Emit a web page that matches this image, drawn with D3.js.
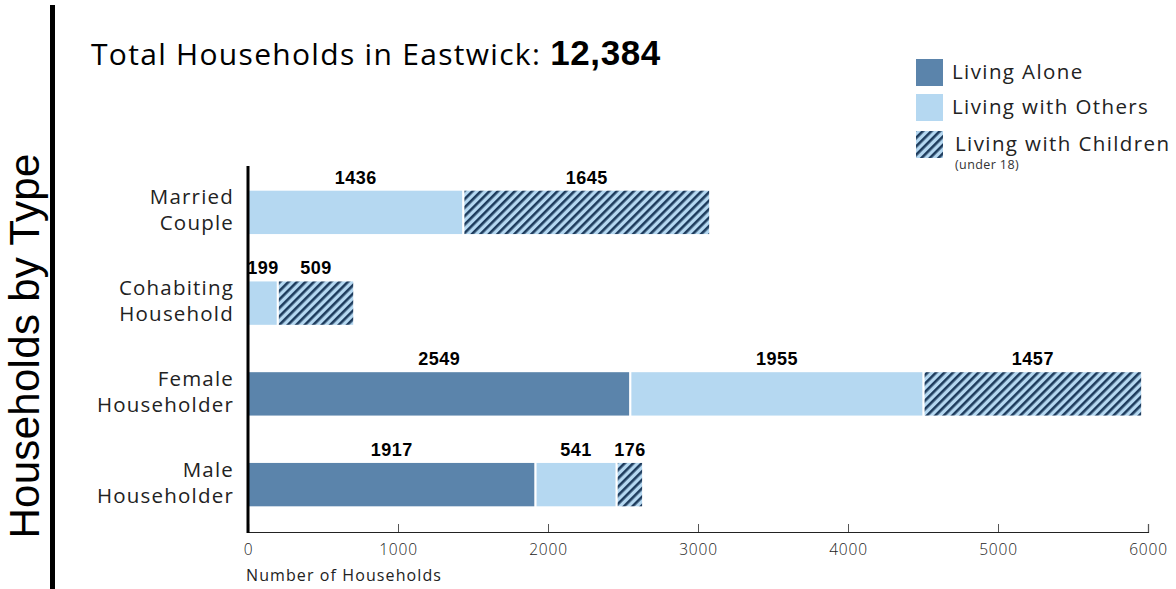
<!DOCTYPE html>
<html><head><meta charset="utf-8">
<script src="https://cdn.jsdelivr.net/npm/d3@7"></script>
<style>
body{margin:0;background:#fff;}
svg{display:block;}
</style></head>
<body>
<svg id="chart" width="1176" height="589"></svg>
<script>
const categories = ["Married Couple", "Cohabiting Household", "Female Householder", "Male Householder"];
const categoryLines = [["Married","Couple"],["Cohabiting","Household"],["Female","Householder"],["Male","Householder"]];
const seriesNames = ["Living Alone", "Living with Others", "Living with Children"];
const livingAlone = [0, 0, 2549, 1917];
const livingWithOthers = [1436, 199, 1955, 541];
const livingWithChildren = [1645, 509, 1457, 176];
const xTicks = [0, 1000, 2000, 3000, 4000, 5000, 6000];
const totalHouseholds = "12,384";

const colors = {alone:"#5b84ab", others:"#b5d8f1", hatch:"#1d3b5c"};
const font = "'Open Sans', sans-serif";
const boldFont = "'Liberation Sans', Arial, sans-serif";

const svg = d3.select("#chart");
const defs = svg.append("defs");
const pat = defs.append("pattern").attr("id","hatch").attr("patternUnits","userSpaceOnUse")
  .attr("width",6).attr("height",6).attr("patternTransform","rotate(45)");
pat.append("rect").attr("width",6).attr("height",6).attr("fill",colors.others);
pat.append("rect").attr("x",0).attr("y",0).attr("width",2.6).attr("height",6).attr("fill",colors.hatch);

const x = d3.scaleLinear().domain([0,6000]).range([248,1148]);
const y = d3.scaleBand().domain(categories).range([167,530]).paddingInner(0.5).paddingOuter(0.25);

// left rule and vertical title
svg.append("rect").attr("x",50).attr("y",5).attr("width",5).attr("height",584).attr("fill","#000");
svg.append("text").attr("transform","translate(39,346) rotate(-90)")
  .attr("text-anchor","middle").attr("font-family",boldFont)
  .attr("font-size",42).attr("letter-spacing",0.3).attr("fill","#000").text("Households by Type");

// title
const t = svg.append("text").attr("x",91).attr("y",65).attr("font-family",font).attr("font-size",30)
  .attr("letter-spacing",1.3).attr("fill","#000");
t.append("tspan").text("Total Households in Eastwick: ");
t.append("tspan").attr("font-weight","bold").attr("font-family",boldFont).attr("font-size",35)
  .attr("letter-spacing",0.6).text(totalHouseholds);

// stacked data
const rows = categories.map((c,i)=>({cat:c, vals:[livingAlone[i], livingWithOthers[i], livingWithChildren[i]]}));
const fills = [colors.alone, colors.others, "url(#hatch)"];
const g = svg.append("g");
rows.forEach(r=>{
  let acc = 0;
  r.vals.forEach((v,k)=>{
    if(v>0){
      g.append("rect").attr("x",x(acc)).attr("y",y(r.cat)).attr("width",x(acc+v)-x(acc))
        .attr("height",y.bandwidth()).attr("fill",fills[k]).attr("stroke","#fff").attr("stroke-width",2);
      g.append("text").attr("x",x(acc+v/2)).attr("y",y(r.cat)-6).attr("text-anchor","middle")
        .attr("font-family",boldFont).attr("font-weight","bold").attr("font-size",18).attr("letter-spacing",0.5)
        .attr("fill","#000").text(v);
    }
    acc += v;
  });
});

// x axis
const xa = svg.append("g").attr("transform","translate(0,532)")
  .call(d3.axisBottom(x).tickValues(xTicks).tickSize(-8).tickSizeOuter(-8).tickPadding(12).tickFormat(d3.format("d")));
xa.select(".domain").attr("stroke","#222").attr("stroke-width",1.2);
xa.selectAll(".tick line").attr("stroke","#555");
xa.selectAll("text").attr("font-family",font).attr("font-size",15.5).attr("letter-spacing",0.8).attr("font-weight",300).attr("fill","#222");
svg.append("text").attr("x",246).attr("y",581).attr("font-family",font).attr("font-size",16)
  .attr("letter-spacing",1.1).attr("fill","#222").text("Number of Households");

// y axis line
svg.append("line").attr("x1",x(0)).attr("x2",x(0)).attr("y1",166).attr("y2",533).attr("stroke","#000").attr("stroke-width",3);

// category labels
categories.forEach((c,i)=>{
  const cy = y(c)+y.bandwidth()/2;
  const tx = svg.append("text").attr("x",234).attr("y",cy-8).attr("text-anchor","end")
    .attr("font-family",font).attr("font-size",20.5).attr("letter-spacing",1.2).attr("fill","#222");
  categoryLines[i].forEach((ln,j)=>{
    tx.append("tspan").attr("x",234).attr("dy", j===0?0:26).text(ln);
  });
});

// legend
const legFills = [colors.alone, colors.others, "url(#hatch)"];
const legY = [59, 94, 131];
const legX = [952, 952, 955];
seriesNames.forEach((s,i)=>{
  svg.append("rect").attr("x",916).attr("y",legY[i]).attr("width",27).attr("height",27).attr("fill",legFills[i]);
  svg.append("text").attr("x",legX[i]).attr("y",legY[i]+20).attr("font-family",font).attr("font-size",20.5)
    .attr("letter-spacing",1.4).attr("fill","#222").text(s);
});
svg.append("text").attr("x",955).attr("y",169).attr("font-family",font).attr("font-size",12.5)
  .attr("letter-spacing",0.4).attr("fill","#333").text("(under 18)");
</script>
</body></html>
